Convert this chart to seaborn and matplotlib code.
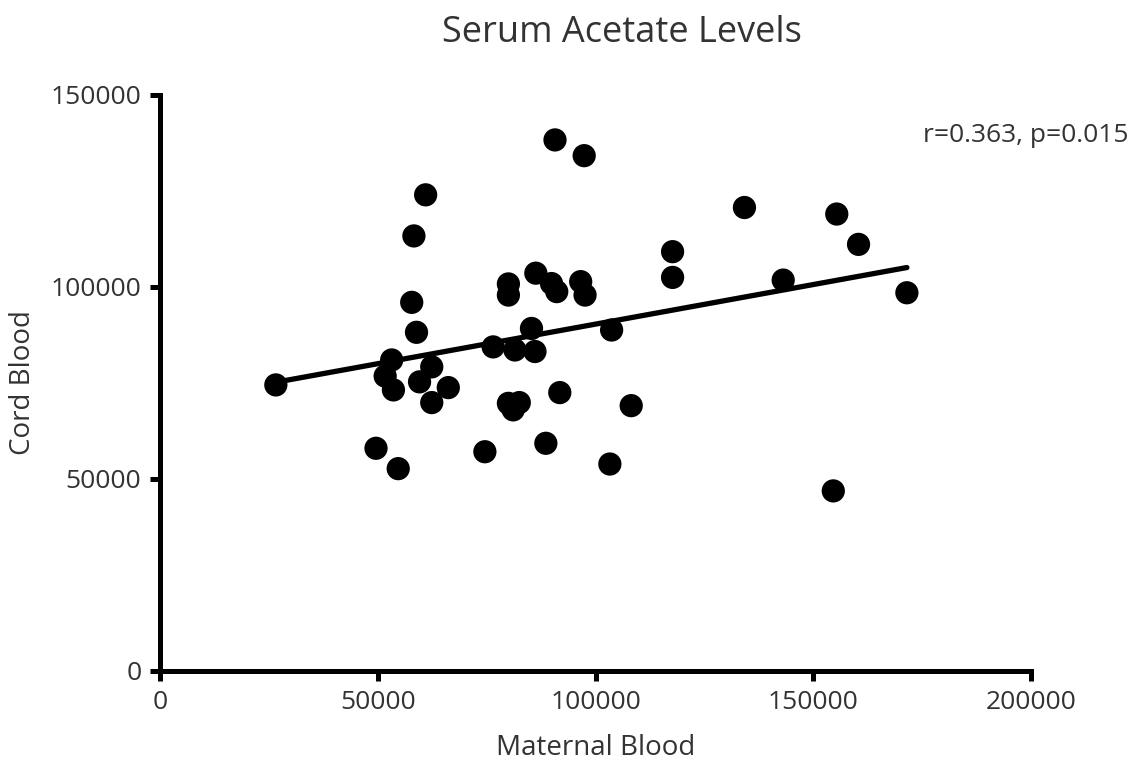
import numpy as np
import pandas as pd
import matplotlib
matplotlib.use("Agg")
import matplotlib.pyplot as plt
import seaborn as sns

maternal = [61000, 58300, 57800, 58900, 26600, 53200, 51700, 53600, 62400, 59600,
            66200, 62400, 49600, 54700,
            90700, 97400, 117700, 117700, 80000, 80000, 86300, 89900, 91100, 96600,
            97600, 85300, 76500, 81500, 86100, 103700, 91800, 80000, 82500, 81100,
            108200, 74600, 88600, 103300,
            134200, 155400, 160400, 143100, 171500, 154600]
cord = [124000, 113300, 96000, 88200, 74500, 81000, 76800, 73200, 79200, 75300,
        73800, 69900, 58000, 52700,
        138300, 134200, 109200, 102500, 100800, 97900, 103600, 100900, 98800, 101400,
        97900, 89200, 84400, 83600, 83200, 88800, 72500, 69700, 69900, 68000,
        69100, 57100, 59300, 53900,
        120700, 119000, 111100, 101800, 98500, 46900]

title = "Serum Acetate Levels"
xlabel = "Maternal Blood"
ylabel = "Cord Blood"
annot = "r=0.363, p=0.015"
xticks = [0, 50000, 100000, 150000, 200000]
yticks = [0, 50000, 100000, 150000]

df = pd.DataFrame({"Maternal Blood": maternal, "Cord Blood": cord})

sns.set_theme(style="ticks")
plt.rcParams['font.family'] = ['Open Sans', 'DejaVu Sans']
txt = '#333333'

fig = plt.figure(figsize=(11.38, 7.65), dpi=100)
ax = fig.add_axes([160/1138, 1-671/765, (1031-160)/1138, (671-95)/765])

sns.regplot(data=df, x="Maternal Blood", y="Cord Blood", ax=ax, ci=None,
            scatter_kws=dict(s=280, color='black', edgecolor='none', alpha=1, zorder=3),
            line_kws=dict(color='black', lw=3.8, zorder=2))

ax.set_xlim(0, 200000)
ax.set_ylim(0, 150000)
ax.set_xticks(xticks)
ax.set_yticks(yticks)
ax.set_xticklabels([str(v) for v in xticks])
ax.set_yticklabels([str(v) for v in yticks])
for s in ['top', 'right']:
    ax.spines[s].set_visible(False)
for s in ['left', 'bottom']:
    ax.spines[s].set_linewidth(3.6)
    ax.spines[s].set_color('black')
    ax.spines[s].set_capstyle('projecting')
ax.tick_params(axis='both', direction='out', length=7.5, width=3.6, color='black',
               labelsize=19, labelcolor=txt, pad=6)
ax.set_xlabel(xlabel, fontsize=20, color=txt, labelpad=14)
ax.set_ylabel(ylabel, fontsize=20, color=txt, labelpad=10)
fig.text(622/1138, 1-33/765, title, fontsize=26, color=txt, ha='center', va='center')
fig.text(1026/1138, 1-135/765, annot, fontsize=19, color=txt, ha='center', va='center')

fig.savefig("out.png", dpi=100)
